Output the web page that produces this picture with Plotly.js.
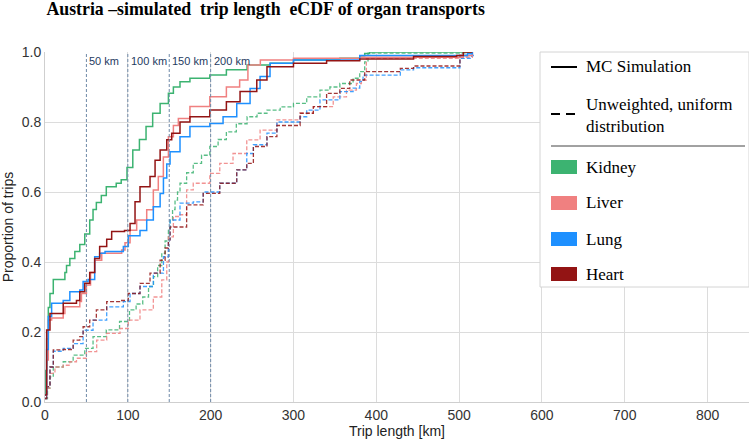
<!DOCTYPE html>
<html>
<head>
<meta charset="utf-8">
<script src="https://cdn.plot.ly/plotly-3.0.1.min.js"></script>
<style>
  html, body { margin: 0; padding: 0; background: #fff; }
  #chart { width: 749px; height: 439px; }
</style>
</head>
<body>
<div id="chart"></div>
<script>
// eCDF step points (trip length km -> proportion)
var kidneyMcX = [0, 1, 2, 4, 6, 10, 24, 26, 30, 36, 42, 48, 54, 58, 62, 68, 74, 86, 92, 99, 106, 114, 122, 130, 139, 149, 155, 163, 175, 199, 219, 244, 272, 300, 340, 356, 380, 386, 392, 516];
var kidneyMcY = [0.02, 0.09, 0.18, 0.27, 0.31, 0.35, 0.37, 0.39, 0.41, 0.43, 0.45, 0.48, 0.52, 0.55, 0.57, 0.59, 0.615, 0.625, 0.635, 0.67, 0.72, 0.75, 0.787, 0.825, 0.853, 0.882, 0.9, 0.915, 0.925, 0.934, 0.949, 0.963, 0.968, 0.977, 0.98, 0.982, 0.989, 0.996, 1.0, 1.0];

var liverMcX = [0, 2, 4, 8, 22, 24, 42, 44, 50, 55, 60, 68.5, 92.6, 96.6, 102.7, 110.7, 122.8, 130.8, 136.8, 142.9, 149, 155, 161, 175, 199, 219, 235, 245, 260, 300, 380, 505, 516];
var liverMcY = [0.02, 0.12, 0.234, 0.24, 0.253, 0.272, 0.287, 0.31, 0.334, 0.37, 0.405, 0.425, 0.434, 0.455, 0.491, 0.52, 0.549, 0.606, 0.644, 0.70, 0.758, 0.79, 0.81, 0.844, 0.872, 0.90, 0.92, 0.963, 0.977, 0.982, 0.985, 0.99, 1.0];

var lungMcX = [0, 2, 4, 8, 22, 30, 42, 46, 52, 60, 66, 72.5, 94.6, 100.6, 114.7, 122.8, 130.8, 139, 143, 147, 151, 163, 175, 199, 215, 231.5, 247.6, 259.7, 271.7, 300, 380, 510, 516];
var lungMcY = [0.02, 0.15, 0.244, 0.282, 0.29, 0.315, 0.32, 0.344, 0.35, 0.415, 0.425, 0.43, 0.444, 0.475, 0.49, 0.52, 0.558, 0.596, 0.64, 0.68, 0.715, 0.758, 0.787, 0.796, 0.815, 0.853, 0.896, 0.93, 0.968, 0.977, 0.99, 0.995, 1.0];

var heartMcX = [0, 2, 6, 22, 38, 42, 48, 54, 60, 66, 74.5, 80.5, 96, 102.7, 108.7, 114.7, 126.8, 132.9, 139, 147, 153, 163, 175, 199, 219, 235.5, 255.7, 268, 300, 340, 380, 445, 497, 505, 516];
var heartMcY = [0.02, 0.206, 0.253, 0.282, 0.29, 0.315, 0.339, 0.37, 0.41, 0.444, 0.465, 0.487, 0.49, 0.51, 0.572, 0.615, 0.644, 0.691, 0.72, 0.749, 0.768, 0.80, 0.815, 0.834, 0.858, 0.887, 0.92, 0.958, 0.968, 0.975, 0.98, 0.987, 0.99, 1.0, 1.0];

var kidneyUniX = [0, 3, 6, 10, 22, 34, 48, 58, 74, 90, 102, 110, 118, 125, 131, 136, 141, 145, 149, 151, 154, 157, 160, 163, 171, 179, 189, 199, 209, 219, 231, 244, 256, 268, 284, 300, 316, 332, 344, 356, 372, 380, 386, 390, 516];
var kidneyUniY = [0.01, 0.04, 0.072, 0.10, 0.115, 0.134, 0.153, 0.187, 0.206, 0.23, 0.263, 0.28, 0.30, 0.33, 0.358, 0.39, 0.425, 0.46, 0.49, 0.52, 0.55, 0.577, 0.60, 0.625, 0.655, 0.682, 0.705, 0.73, 0.75, 0.772, 0.795, 0.815, 0.825, 0.834, 0.843, 0.853, 0.872, 0.891, 0.90, 0.91, 0.925, 0.944, 0.972, 0.997, 1.0];

var liverUniX = [0, 2, 6, 12, 22, 30, 38, 50, 62.4, 74.5, 90.6, 100.6, 114.7, 130.8, 141, 147, 149, 155, 163, 171, 179, 199, 211, 227, 243.6, 259.7, 280, 308, 324, 348, 364, 376, 382, 388, 505, 516];
var liverUniY = [0.01, 0.04, 0.082, 0.10, 0.105, 0.115, 0.125, 0.144, 0.177, 0.196, 0.21, 0.234, 0.263, 0.30, 0.349, 0.40, 0.472, 0.53, 0.535, 0.606, 0.625, 0.653, 0.682, 0.71, 0.749, 0.777, 0.806, 0.825, 0.844, 0.872, 0.891, 0.91, 0.92, 0.982, 0.985, 1.0];

var lungUniX = [0, 2, 6, 10, 22, 34, 46, 58, 74.5, 94.6, 102.7, 114.7, 130.8, 143, 149, 151, 163, 179, 191, 211, 231.5, 243.6, 251.6, 268, 280, 308, 316, 332, 356, 372, 380, 384, 429, 445, 501, 515, 518];
var lungUniY = [0.01, 0.044, 0.10, 0.145, 0.153, 0.167, 0.205, 0.234, 0.272, 0.287, 0.31, 0.33, 0.368, 0.415, 0.463, 0.52, 0.568, 0.572, 0.60, 0.625, 0.663, 0.71, 0.735, 0.768, 0.80, 0.815, 0.834, 0.863, 0.887, 0.897, 0.916, 0.934, 0.949, 0.955, 0.982, 0.99, 0.99];

var heartUniX = [0, 2, 6, 10, 22, 34, 42, 46, 54, 62, 74.5, 90, 100.6, 114.7, 126.8, 139, 145, 149, 151, 171, 191, 211, 231.5, 243.6, 251.6, 268, 280, 308, 324, 340, 356, 368, 386, 429, 445, 501, 510, 516];
var heartUniY = [0.01, 0.044, 0.10, 0.149, 0.15, 0.177, 0.187, 0.215, 0.234, 0.263, 0.287, 0.29, 0.31, 0.339, 0.368, 0.405, 0.44, 0.463, 0.50, 0.563, 0.596, 0.625, 0.663, 0.682, 0.73, 0.758, 0.79, 0.825, 0.844, 0.882, 0.896, 0.92, 0.944, 0.953, 0.96, 0.99, 1.0, 1.0];

var organs = ['Kidney', 'Liver', 'Lung', 'Heart'];
var organColors = ['#3cb371', '#f08080', '#1e90ff', '#931414'];
var refKm = [50, 100, 150, 200];
var xTicks = [0, 100, 200, 300, 400, 500, 600, 700, 800];
var yTicks = [0, 0.2, 0.4, 0.6, 0.8, 1.0];

var mcX = [kidneyMcX, liverMcX, lungMcX, heartMcX];
var mcY = [kidneyMcY, liverMcY, lungMcY, heartMcY];
var uniX = [kidneyUniX, liverUniX, lungUniX, heartUniX];
var uniY = [kidneyUniY, liverUniY, lungUniY, heartUniY];

var serif = 'Liberation Serif, Times New Roman, serif';
var sans = 'Liberation Sans, Arial, sans-serif';

var traces = [];
organs.forEach(function (o, i) {
  traces.push({
    x: uniX[i], y: uniY[i], type: 'scatter', mode: 'lines', name: o + ' uniform',
    line: { shape: 'hv', color: organColors[i], width: 1.3, dash: '4px,2px' },
    opacity: 0.85, showlegend: false, hoverinfo: 'skip'
  });
});
organs.forEach(function (o, i) {
  traces.push({
    x: mcX[i], y: mcY[i], type: 'scatter', mode: 'lines', name: o,
    line: { shape: 'hv', color: organColors[i], width: 1.5 },
    showlegend: false, hoverinfo: 'skip'
  });
});

var shapes = [];
var annotations = [];
refKm.forEach(function (km) {
  shapes.push({ type: 'line', xref: 'x', yref: 'paper', x0: km, x1: km, y0: 0, y1: 1,
    line: { color: '#6f8aa8', width: 1, dash: '3px,2px' }, layer: 'above' });
  annotations.push({ x: km, y: 1, xref: 'x', yref: 'paper', text: km + ' km', showarrow: false,
    xanchor: 'left', yanchor: 'top', xshift: 1, yshift: -1,
    font: { family: sans, size: 11, color: '#1f3b5f' } });
});

// custom legend panel (paper coords: x 0..1 -> 45..749 px, y 0..1 -> 402..52 px)
function px(x) { return (x - 45) / 704; }
function py(y) { return (402 - y) / 350; }
shapes.push({ type: 'rect', xref: 'paper', yref: 'paper', x0: px(540), x1: 1.0, y0: py(287), y1: 1.0,
  fillcolor: '#ffffff', line: { color: '#d4d4d4', width: 1 }, layer: 'above' });
shapes.push({ type: 'line', xref: 'paper', yref: 'paper', x0: px(551), x1: px(577), y0: py(67), y1: py(67),
  line: { color: '#000', width: 2 }, layer: 'above' });
shapes.push({ type: 'line', xref: 'paper', yref: 'paper', x0: px(551), x1: px(577), y0: py(114), y1: py(114),
  line: { color: '#000', width: 2, dash: '9px,6px' }, layer: 'above' });
shapes.push({ type: 'line', xref: 'paper', yref: 'paper', x0: px(551), x1: px(745), y0: py(146), y1: py(146),
  line: { color: '#444', width: 1 }, layer: 'above' });
annotations.push({ xref: 'paper', yref: 'paper', x: px(584), y: py(67), text: 'MC Simulation',
  showarrow: false, xanchor: 'left', yanchor: 'middle', font: { family: serif, size: 17, color: '#000' } });
annotations.push({ xref: 'paper', yref: 'paper', x: px(584), y: py(115), text: 'Unweighted, uniform<br>distribution',
  showarrow: false, xanchor: 'left', yanchor: 'middle', align: 'left', font: { family: serif, size: 17, color: '#000' } });
var swatchY = [167, 203, 239, 274];
organs.forEach(function (o, i) {
  shapes.push({ type: 'rect', xref: 'paper', yref: 'paper', x0: px(551), x1: px(577),
    y0: py(swatchY[i] + 7), y1: py(swatchY[i] - 7), fillcolor: organColors[i], line: { width: 0 }, layer: 'above' });
  annotations.push({ xref: 'paper', yref: 'paper', x: px(584), y: py(swatchY[i]), text: o,
    showarrow: false, xanchor: 'left', yanchor: 'middle', font: { family: serif, size: 17, color: '#000' } });
});

var layout = {
  width: 749, height: 439,
  margin: { l: 45, r: 0, t: 52, b: 37 },
  paper_bgcolor: '#fff', plot_bgcolor: '#fff',
  title: { text: 'Austria –simulated  trip length  eCDF of organ transports', xref: 'container', yref: 'container',
    x: 0.062, xanchor: 'left', y: 0.995, yanchor: 'top',
    font: { family: serif, size: 17.8, weight: 700, color: '#000' } },
  xaxis: {
    range: [0, 850], tickvals: xTicks, ticktext: xTicks.map(String),
    showgrid: true, gridcolor: '#dcdcdc', zeroline: false,
    showline: true, linecolor: '#cfcfcf', ticks: '',
    tickfont: { family: sans, size: 14, color: '#333' },
    title: { text: 'Trip length [km]', font: { family: sans, size: 14, color: '#222' }, standoff: 0 }
  },
  yaxis: {
    range: [0, 1.0], tickvals: yTicks, ticktext: yTicks.map(function (v) { return v.toFixed(1); }),
    showgrid: true, gridcolor: '#dcdcdc', zeroline: false,
    showline: true, linecolor: '#cfcfcf', ticks: '',
    tickfont: { family: sans, size: 14, color: '#333' },
    title: { text: 'Proportion of trips', font: { family: sans, size: 14, color: '#222' }, standoff: 6 }
  },
  shapes: shapes,
  annotations: annotations,
  showlegend: false
};

Plotly.newPlot('chart', traces, layout, { displayModeBar: false, staticPlot: true });
</script>
</body>
</html>
